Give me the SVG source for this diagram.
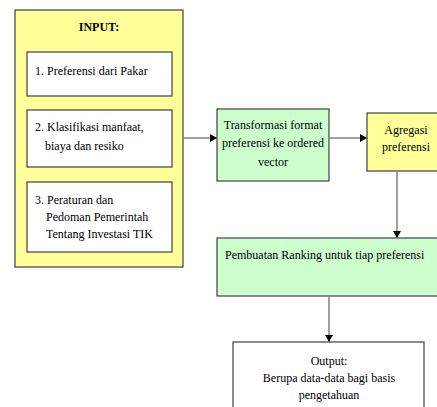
<svg xmlns="http://www.w3.org/2000/svg" width="437" height="407" viewBox="0 0 437 407">
<style>
.box{stroke:#404040;stroke-width:1.2}
.y{fill:#ffff99}
.g{fill:#ccffcc}
.w{fill:#ffffff}
.t{font-family:"Liberation Serif","Times New Roman",serif;font-size:12px;fill:#000}
.c{text-anchor:middle}
.ln{stroke:#808080;stroke-width:1.5;fill:none}
</style>
<defs>
<marker id="ah" markerWidth="7" markerHeight="8" refX="7" refY="4" orient="auto" markerUnits="userSpaceOnUse">
<path d="M0,0 L7,4 L0,8 Z" fill="#000"/>
</marker>
</defs>
<rect width="437" height="407" fill="#fff"/>
<g id="input">
<rect class="box y" x="15" y="10" width="168" height="257"/>
<text class="t c" x="99" y="31" font-weight="bold" font-size="11">INPUT:</text>
</g>
<g id="input1">
<rect class="box w" x="27" y="52" width="145" height="44"/>
<text class="t" x="35" y="75">1. Preferensi dari Pakar</text>
</g>
<g id="input2">
<rect class="box w" x="27" y="110" width="145" height="57"/>
<text class="t" x="35" y="131">2. Klasifikasi manfaat,</text>
<text class="t" x="45" y="150">biaya dan resiko</text>
</g>
<g id="input3">
<rect class="box w" x="27" y="182" width="145" height="70"/>
<text class="t" x="35" y="204">3. Peraturan dan</text>
<text class="t" x="46" y="221">Pedoman Pemerintah</text>
<text class="t" x="46" y="238">Tentang Investasi TIK</text>
</g>
<g id="transform">
<rect class="box g" x="217" y="109" width="112" height="72"/>
<text class="t c" x="273" y="129">Transformasi format</text>
<text class="t c" x="273" y="147">preferensi ke  ordered</text>
<text class="t c" x="273" y="166">vector</text>
</g>
<g id="agregasi">
<rect class="box y" x="367" y="113" width="80" height="58"/>
<text class="t c" x="406" y="134">Agregasi</text>
<text class="t c" x="406" y="151">preferensi</text>
</g>
<g id="ranking">
<rect class="box g" x="217" y="238" width="230" height="58"/>
<text class="t" x="225" y="259">Pembuatan Ranking untuk tiap preferensi</text>
</g>
<g id="output">
<rect class="box w" x="233" y="342" width="191" height="80"/>
<text class="t c" x="329" y="365">Output:</text>
<text class="t c" x="329" y="382">Berupa data-data bagi basis</text>
<text class="t c" x="329" y="399">pengetahuan</text>
</g>
<g id="connectors">
<line class="ln" x1="183" y1="138" x2="217" y2="138" marker-end="url(#ah)"/>
<line class="ln" x1="329" y1="138" x2="367" y2="138" marker-end="url(#ah)"/>
<line class="ln" x1="397" y1="171" x2="397" y2="238" marker-end="url(#ah)"/>
<line class="ln" x1="329" y1="296" x2="329" y2="342" marker-end="url(#ah)"/>
</g>
</svg>
